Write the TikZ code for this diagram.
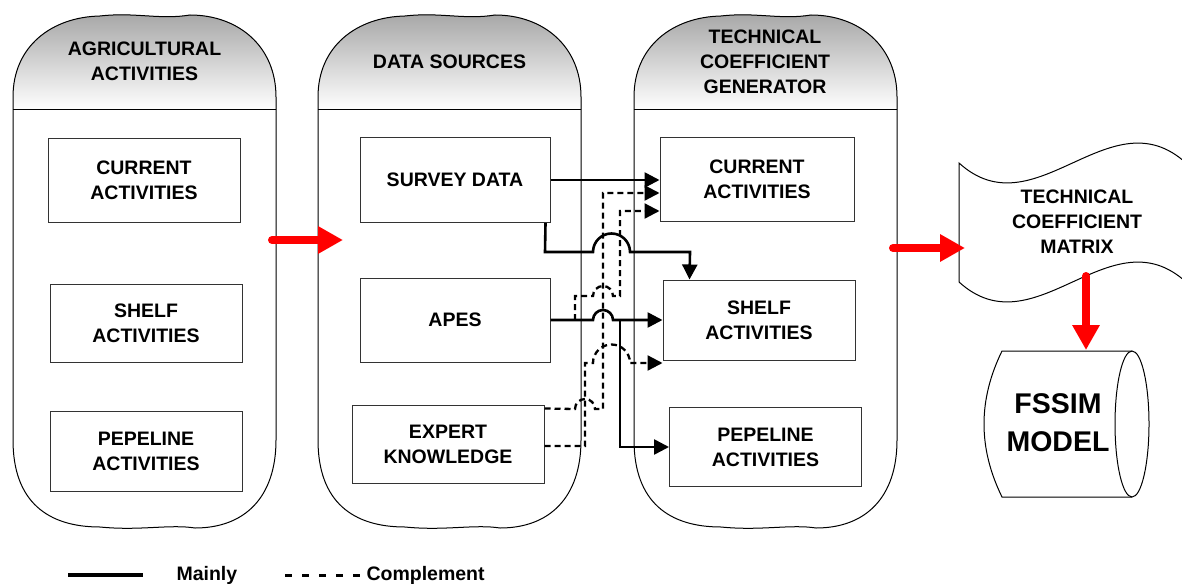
\documentclass[tikz,border=0pt]{standalone}
\usepackage{fontspec}
\setmainfont{Liberation Sans}
\usepackage{tikz}
\usetikzlibrary{arrows.meta}
\tikzset{>=Triangle}
\tikzset{
  act box/.style={
    draw=black!80, line width=1pt, fill=white,
    minimum width=192pt, align=center,
    font=\bfseries\fontsize{19.5}{25}\selectfont}}
\tikzset{
  lane title/.style={
    align=center,
    font=\bfseries\fontsize{19.5}{25}\selectfont}}
\tikzset{
  mainly flow/.style={line width=2.6pt,-{Triangle[length=15pt,width=15pt]}}}
\tikzset{
  complement flow/.style={line width=2.3pt,dash pattern=on 6pt off 4pt,
    -{Triangle[length=15pt,width=15pt]}}}
\tikzset{
  big arrow/.style={red,line width=8pt,line cap=round,
    -{Triangle[length=25pt,width=26pt]}}}

\begin{document}
\begin{tikzpicture}[x=1pt,y=-1pt]
    \useasboundingbox (0,0) rectangle (1182,583);
    \clip (0,0) rectangle (1182,583);
    \foreach \ox in {0,305,621}{
    \begin{scope}[xshift=\ox]
        \fill[top color=black!35,bottom color=white]
        (13,110) -- (13,97) .. controls (13,46) and (52,17) .. (100,16)
        .. controls (135,12) and (160,20) .. (190,15)
        .. controls (238,15) and (276,46) .. (276,97) -- (276,110) -- cycle;
        \draw[line width=1pt]
        (13,110) -- (13,97) .. controls (13,46) and (52,17) .. (100,16)
        .. controls (135,12) and (160,20) .. (190,15)
        .. controls (238,15) and (276,46) .. (276,97)
        -- (276,440) .. controls (276,497) and (245,528) .. (195,528)
        .. controls (170,524) and (140,531) .. (100,527)
        .. controls (48,527) and (13,502) .. (13,440) -- cycle;
        \draw[line width=1pt] (13,110) -- (276,110);
    \end{scope}}
    \node[lane title] (agri) at (144.5,61.5) {AGRICULTURAL\\ACTIVITIES};
    \node[lane title] (data) at (449.5,62) {DATA SOURCES};
    \node[lane title] (gen) at (765,61.5) {TECHNICAL\\COEFFICIENT\\GENERATOR};

    \node[act box,minimum height=84pt] (cur1) at (144,180) {CURRENT\\ACTIVITIES};
    \node[act box,minimum height=78pt] (shelf1) at (146,323) {SHELF\\ACTIVITIES};
    \node[act box,minimum height=80pt] (pipe1) at (146,451) {PEPELINE\\ACTIVITIES};
    \node[act box,minimum width=190pt,minimum height=85pt] (survey) at (455,180) {SURVEY DATA};
    \node[act box,minimum width=190pt,minimum height=84pt] (apes) at (455,320) {APES};
    \node[act box,minimum height=78pt] (expert) at (448,444) {EXPERT\\KNOWLEDGE};
    \node[act box,minimum width=194pt,minimum height=84pt] (cur3) at (757,179) {CURRENT\\ACTIVITIES};
    \node[act box,minimum height=80pt] (shelf3) at (759,320) {SHELF\\ACTIVITIES};
    \node[act box,minimum height=79pt] (pipe3) at (765.5,447) {PEPELINE\\ACTIVITIES};

    \draw[mainly flow] (survey.east) -- (cur3.west |- survey.east);
    \draw[mainly flow] ([xshift=-5pt]survey.south east) -- (545,252) -- (593,252)
        arc[start angle=180,end angle=360,radius=18.5] -- (690,252)
        -- ([xshift=27pt]shelf3.north west);
    \draw[mainly flow] (apes.east) -- (593,320)
        arc[start angle=180,end angle=360,radius=10] -- (shelf3.west);
    \coordinate (fork) at (620,320);
    \draw[mainly flow] (fork) -- (620,447) -- (pipe3.west);

    \coordinate (tap) at (575,320);
    \draw[complement flow] ([yshift=-4pt]expert.north east) -- (575,409)
        arc[start angle=180,end angle=360,radius=10] -- (603,409) -- (603,193)
        -- ([yshift=-14pt]cur3.west);
    \draw[complement flow] (tap) -- (575,296) -- (593,296)
        arc[start angle=180,end angle=360,radius=10] -- (620,296) -- (620,211)
        -- ([yshift=-32pt]cur3.west);
    \draw[complement flow] ([yshift=-2pt]expert.east) -- (585,446) -- (585,363)
        -- (593,363) arc[start angle=180,end angle=360,radius=18.5]
        -- ([yshift=-43pt]shelf3.west);

    \draw[fill=white,line width=1pt] (959,163) .. controls (1035,232) and (1110,94) .. (1186,163)
        -- (1186,282) .. controls (1110,213) and (1035,351) .. (959,282) -- cycle;
    \node[lane title] (tcm) at (1077,222) {TECHNICAL\\COEFFICIENT\\MATRIX};

    \draw[fill=white,line width=1pt] (1132,351) -- (1002,351)
        .. controls (978,400) and (978,448) .. (1002,497) -- (1132,497);
    \draw[line width=1pt] (1132,424) ellipse [x radius=17,y radius=73];
    \node[align=center,font=\bfseries\fontsize{28.5}{38}\selectfont] (fssim) at (1058,423) {FSSIM\\MODEL};

    \coordinate (agri out) at (272,240);
    \coordinate (data in) at (343,240);
    \coordinate (gen out) at (893,248);
    \coordinate (tcm in) at (965,248);
    \coordinate (tcm out) at (1086,276);
    \coordinate (fssim in) at (1086,350);
    \draw[big arrow] (agri out) -- (data in);
    \draw[big arrow] (gen out) -- (tcm in);
    \draw[big arrow] (tcm out) -- (fssim in);

    \coordinate (key a) at (68,575);
    \coordinate (key b) at (143,575);
    \coordinate (key c) at (285,575);
    \coordinate (key d) at (362,575);
    \draw[line width=4pt] (key a) -- (key b);
    \draw[line width=3pt,dash pattern=on 7pt off 10pt] (key c) -- (key d);
    \node[anchor=base west,font=\bfseries\fontsize{19.5}{25}\selectfont] (mainly) at (173,580) {Mainly};
    \node[anchor=base west,font=\bfseries\fontsize{19.5}{25}\selectfont] (complement) at (363,580) {Complement};
\end{tikzpicture}
\end{document}
